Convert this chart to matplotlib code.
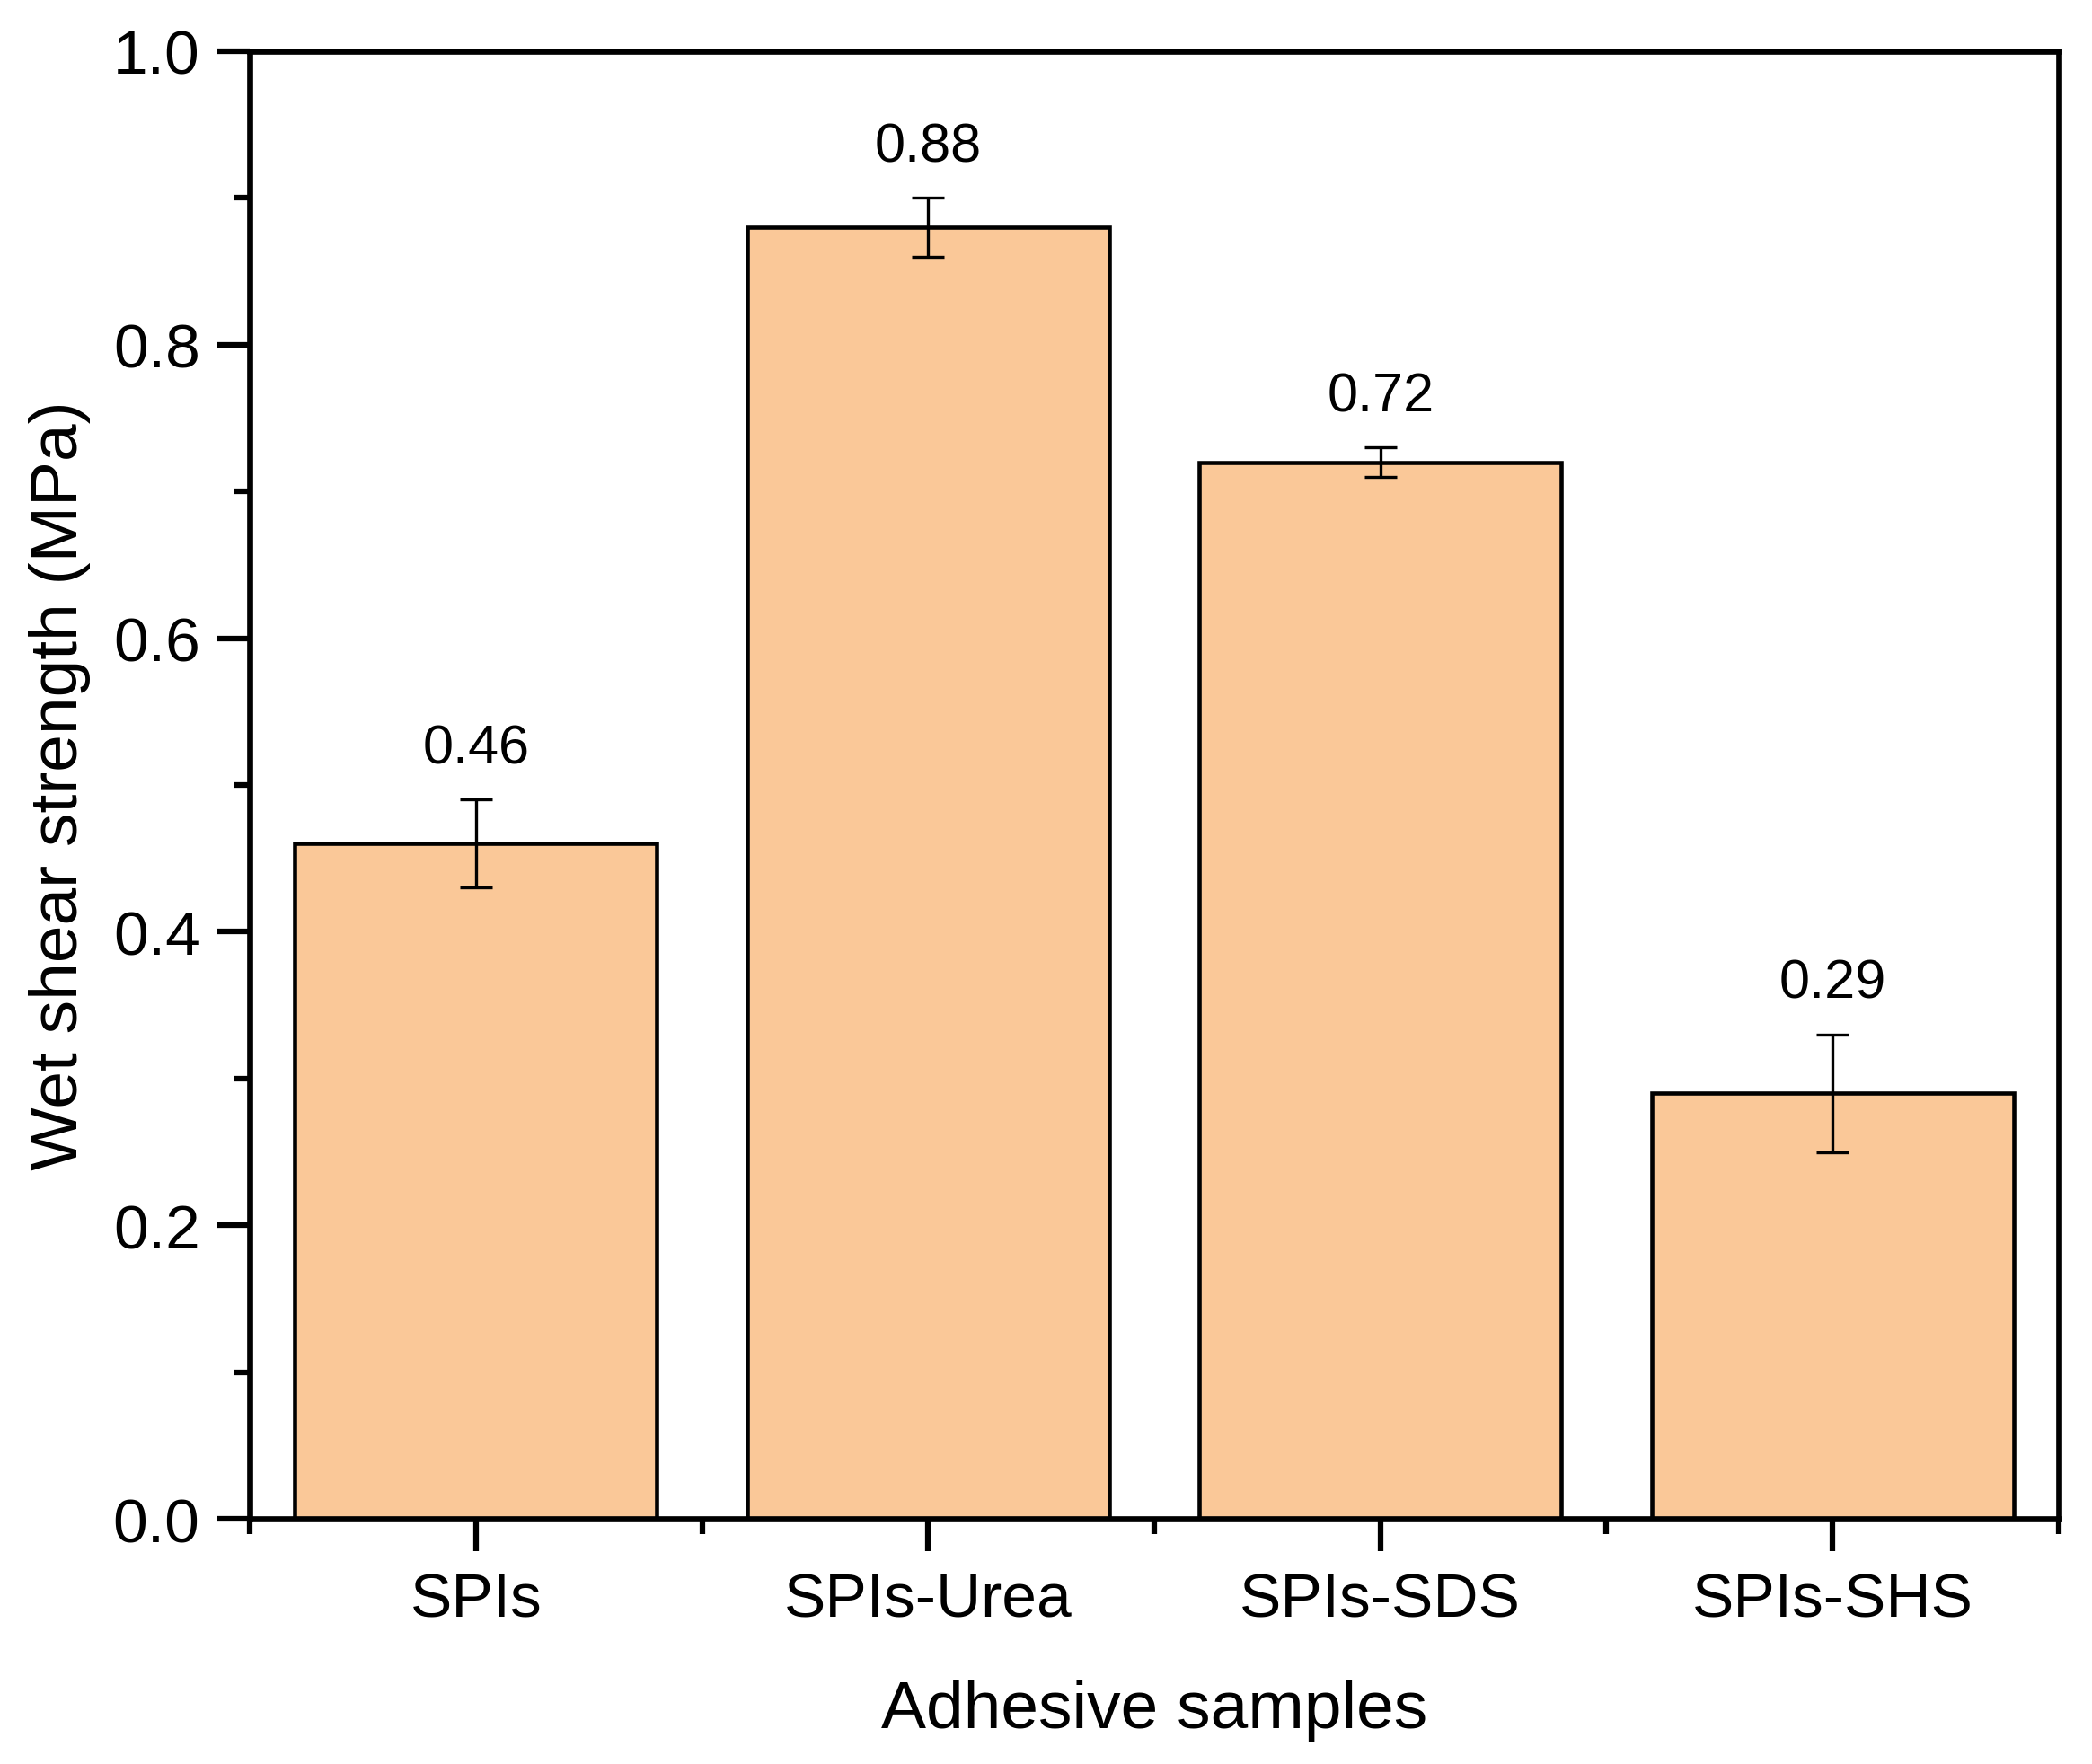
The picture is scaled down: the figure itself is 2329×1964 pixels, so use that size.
import matplotlib
matplotlib.use("Agg")
import matplotlib.pyplot as plt
import numpy as np
from matplotlib.ticker import MultipleLocator, FixedLocator

categories = ["SPIs", "SPIs-Urea", "SPIs-SDS", "SPIs-SHS"]
values = [0.46, 0.88, 0.72, 0.29]
errors = [0.03, 0.02, 0.01, 0.04]
labels = ["0.46", "0.88", "0.72", "0.29"]
yticks = [0.0, 0.2, 0.4, 0.6, 0.8, 1.0]

plt.rcParams['font.family'] = ['Liberation Sans', 'DejaVu Sans']

fig = plt.figure(figsize=(23.29, 19.65), dpi=100)
ax = fig.add_axes([0.1194, 0.1389, 0.9841 - 0.1194, 0.9705 - 0.1389])

x = np.arange(len(categories))
ax.bar(x, values, width=0.8, color="#FAC898", edgecolor="black", linewidth=3.3, zorder=2)
ax.errorbar(x, values, yerr=errors, fmt='none', ecolor='black', elinewidth=2.4,
            capsize=13, capthick=2.4, zorder=3)
for xi, v, e, lab in zip(x, values, errors, labels):
    ax.text(xi, v + e + 0.025, lab, ha='center', va='baseline', fontsize=44)

ax.set_xlim(-0.5, 3.5)
ax.set_ylim(0, 1.0)
ax.set_xticks(x)
ax.set_xticklabels(categories)
ax.xaxis.set_minor_locator(FixedLocator([-0.5, 0.5, 1.5, 2.5, 3.5]))
ax.set_yticks(yticks)
ax.set_yticklabels([f"{t:.1f}" for t in yticks])
ax.yaxis.set_minor_locator(MultipleLocator(0.1))

for s in ax.spines.values():
    s.set_linewidth(4.8)
ax.tick_params(axis='both', which='major', direction='out', length=26, width=4.5,
               labelsize=50)
ax.tick_params(axis='both', which='minor', direction='out', length=12, width=4.5)
ax.tick_params(axis='y', which='major', pad=14)
ax.tick_params(axis='x', which='major', pad=16)

ax.set_xlabel("Adhesive samples", fontsize=54, labelpad=40)
ax.set_ylabel("Wet shear strength (MPa)", fontsize=54, labelpad=18)

fig.savefig("out.png", dpi=100)
